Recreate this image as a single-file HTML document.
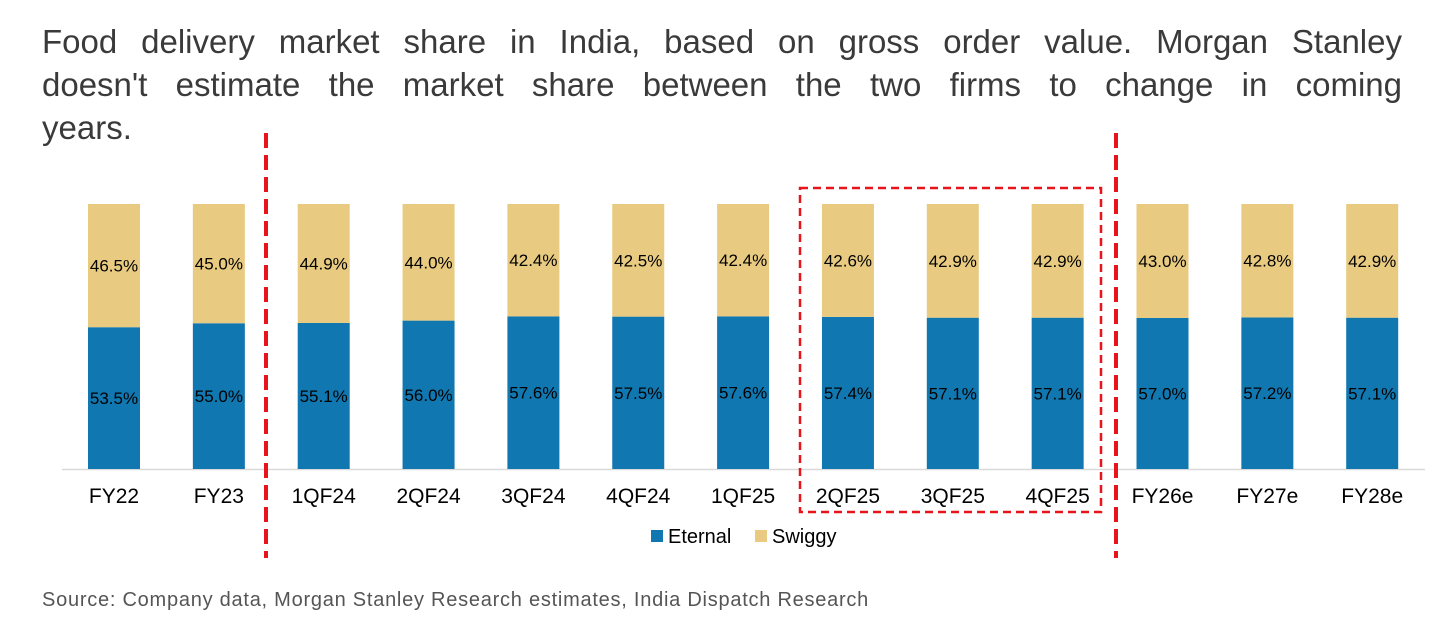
<!DOCTYPE html>
<html><head><meta charset="utf-8"><style>
body{margin:0;width:1456px;height:626px;background:#fff;overflow:hidden;font-family:"Liberation Sans",sans-serif;}
#title{position:absolute;left:42px;top:20px;width:1360px;font-size:33px;line-height:43px;color:#3a3a3a;}
#title div{text-align:justify;text-align-last:justify}
#title div.last{text-align-last:left}
#src{position:absolute;left:42px;top:589px;font-size:20px;letter-spacing:0.75px;color:#555}
svg{position:absolute;left:0;top:0}
</style></head><body>
<div id="title"><div>Food delivery market share in India, based on gross order value. Morgan Stanley</div><div>doesn't estimate the market share between the two firms to change in coming</div><div class="last">years.</div></div>
<svg id="chart" width="1456" height="626"></svg>
<div id="src">Source: Company data, Morgan Stanley Research estimates, India Dispatch Research</div>
<script>
const categories=["FY22","FY23","1QF24","2QF24","3QF24","4QF24","1QF25","2QF25","3QF25","4QF25","FY26e","FY27e","FY28e"];
const eternal=[53.5,55.0,55.1,56.0,57.6,57.5,57.6,57.4,57.1,57.1,57.0,57.2,57.1];
const swiggy=[46.5,45.0,44.9,44.0,42.4,42.5,42.4,42.6,42.9,42.9,43.0,42.8,42.9];
const NS="http://www.w3.org/2000/svg";
const svg=document.getElementById('chart');
function mk(t,a,p){const e=document.createElementNS(NS,t);for(const k in a)e.setAttribute(k,a[k]);(p||svg).appendChild(e);return e;}
const y0=469,H=265;
const y=v=>y0-v/100*H;
const xc=i=>114+i*104.85;
const bw=52;
const axis=mk('line',{x1:62,x2:1425,y1:469.5,y2:469.5,stroke:'#d9d9d9','stroke-width':1.5});


categories.forEach((c,i)=>{
  const e=eternal[i],s=swiggy[i];
  const r1=mk('rect',{x:xc(i)-bw/2,y:y(e),width:bw,height:y0-y(e),fill:'#1177b0'});
  
  
  const r2=mk('rect',{x:xc(i)-bw/2,y:y(e+s),width:bw,height:y(e)-y(e+s),fill:'#e8cb80'});
  
  
  const t1=mk('text',{x:xc(i),y:(y(e)+y0)/2+6,'text-anchor':'middle','font-size':17,fill:'#000'});
  t1.textContent=e.toFixed(1)+'%';
  
  
  const t2=mk('text',{x:xc(i),y:(y(e)+y(e+s))/2+6,'text-anchor':'middle','font-size':17,fill:'#000'});
  t2.textContent=s.toFixed(1)+'%';
  
  
  const tl=mk('text',{x:xc(i),y:503,'text-anchor':'middle','font-size':21,fill:'#000'});
  tl.textContent=c;
  
  
});
[266,1116].forEach(x=>{
  const l=mk('line',{x1:x,x2:x,y1:133,y2:558,stroke:'#e8141b','stroke-width':4,'stroke-dasharray':'15 7'});
  
  
});
const box=mk('rect',{x:800,y:188,width:301,height:324,fill:'none',stroke:'#e8141b','stroke-width':2.5,'stroke-dasharray':'8 5'});


const g=mk('g',{});


mk('rect',{x:651,y:530,width:12,height:12,fill:'#1177b0'},g);
const la=mk('text',{x:668,y:543,'font-size':20,fill:'#000'},g);la.textContent='Eternal';
mk('rect',{x:755,y:530,width:12,height:12,fill:'#e8cb80'},g);
const lb=mk('text',{x:772,y:543,'font-size':20,fill:'#000'},g);lb.textContent='Swiggy';
</script>
</body></html>
